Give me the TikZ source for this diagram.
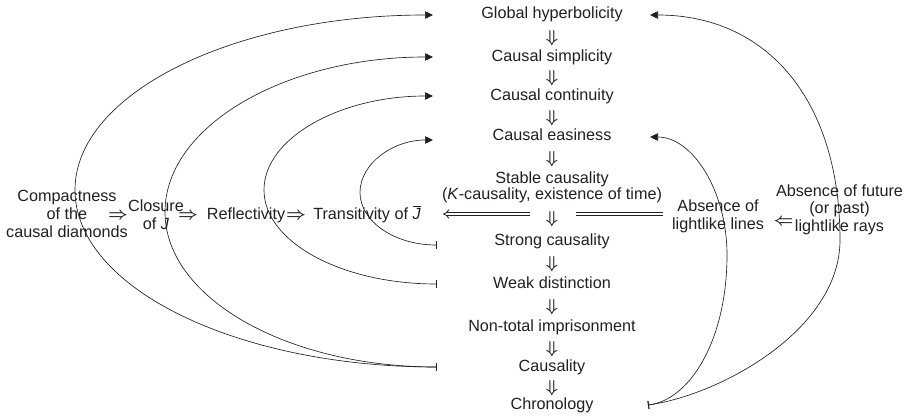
\documentclass[tikz,border=0pt]{standalone}
\usepackage{fontspec}
\setmainfont{Liberation Sans}
\usetikzlibrary{arrows.meta}
\definecolor{ink}{RGB}{35,31,32}
\begin{document}
\begin{tikzpicture}[x=1pt,y=-1pt,
  lbl/.style={font=\fontsize{16.2}{17.8}\selectfont, text=ink, inner sep=0pt, anchor=base, align=center},
  sym/.style={font=\fontsize{16.5}{17.8}\selectfont\boldmath, text=ink, inner sep=0pt},
  arcline/.style={draw=ink, line width=0.65pt, {Bar[width=8pt,line width=0.9pt]}-{Triangle[length=8pt,width=7.5pt]}},
  dbl/.style={draw=ink, line width=0.8pt, double=white, double distance=2.4pt}
]
\useasboundingbox (0,0) rectangle (910,415);

% centre column
\node[lbl] (gh)  at (552,19)  {Global hyperbolicity};
\node[lbl] (cs)  at (552,61)  {Causal simplicity};
\node[lbl] (cc)  at (552,100) {Causal continuity};
\node[lbl] (ce)  at (552,140) {Causal easiness};
\node[lbl, font=\fontsize{16.2}{16}\selectfont] (sc)  at (552,199) {Stable causality\\(\textit{K}-causality, existence of time)};
\node[lbl] (stc) at (552,245) {Strong causality};
\node[lbl] (wd)  at (552,288) {Weak distinction};
\node[lbl] (nti) at (552,331) {Non-total imprisonment};
\node[lbl] (ca)  at (552,371) {Causality};
\node[lbl] (ch)  at (552,409) {Chronology};

\node[sym] (d1) at (552,38)    {$\Downarrow$};
\node[sym] (d2) at (552,78.5)  {$\Downarrow$};
\node[sym] (d3) at (552,118)   {$\Downarrow$};
\node[sym] (d4) at (552,159.5) {$\Downarrow$};
\node[sym] (d5) at (552,219)   {$\Downarrow$};
\node[sym] (d6) at (552,264.5) {$\Downarrow$};
\node[sym] (d7) at (552,307.5) {$\Downarrow$};
\node[sym] (d8) at (552,349)   {$\Downarrow$};
\node[sym] (d9) at (552,388)   {$\Downarrow$};

% left row
\node[lbl] (cd) at (67,237.3) {Compactness\\of the\\causal diamonds};
\node[sym] (r1) at (118,216) {$\Rightarrow$};
\node[lbl] (cl) at (156,229.5) {Closure\\of \textit{J}};
\node[sym] (r2) at (188,216) {$\Rightarrow$};
\node[lbl] (rf) at (246,219) {Reflectivity};
\node[sym] (r3) at (296,216) {$\Rightarrow$};
\node[lbl] (tr) at (367,219) {Transitivity of $\overline{\mbox{\itshape J}}$};

% right row
\node[lbl] (al) at (718,229.5) {Absence of\\lightlike lines};
\node[sym] (l1) at (783.5,222) {$\Leftarrow$};
\node[lbl] (af) at (839.5,231.7) {Absence of future\\(or past)\\lightlike rays};

% long double arrow
\coordinate (dA) at (663,214);
\coordinate (dB) at (576,214);
\coordinate (dC) at (530,214);
\coordinate (dD) at (443,214);
\draw[dbl] (dA) -- (dB);
\draw[dbl, -{Implies}] (dC) -- (dD);

% left arcs
\coordinate (a1) at (433,15);
\coordinate (a2) at (433,57);
\coordinate (a3) at (433,96);
\coordinate (a4) at (433,140);
\coordinate (b12) at (437,367);
\coordinate (b3) at (437,284);
\coordinate (b4) at (437,245);
\draw[arcline] (b12) .. controls (237,367) and (75,288) .. (75,190) .. controls (75,93) and (235,15) .. (a1);
\draw[arcline] (b12) .. controls (287,367) and (165,298) .. (165,212) .. controls (165,126) and (285,57) .. (a2);
\draw[arcline] (b3) .. controls (341.5,284) and (264,242) .. (264,190) .. controls (264,138) and (340,96) .. (a3);
\draw[arcline] (b4) .. controls (394.5,245) and (360,221.5) .. (360,192.5) .. controls (360,163.5) and (393,140) .. (a4);

% right arcs
\coordinate (a5) at (650,137);
\coordinate (a6) at (650,15);
\coordinate (b56) at (648,405);
\draw[arcline] (b56) .. controls (690,400) and (727,340) .. (727,255) .. controls (727,190) and (692,137) .. (a5);
\draw[arcline] (b56) .. controls (720,395) and (840,330) .. (840,240) .. controls (840,100) and (767,15) .. (a6);
\end{tikzpicture}
\end{document}
